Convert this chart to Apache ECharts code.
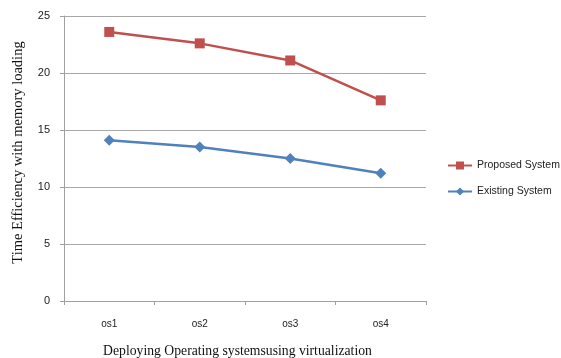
<!DOCTYPE html>
<html>
<head>
<meta charset="utf-8">
<script src="https://cdn.jsdelivr.net/npm/echarts@6/dist/echarts.min.js"></script>
<style>html,body{margin:0;padding:0;background:#fff}#c{width:561px;height:358px}</style>
</head>
<body>
<div id="c"></div>
<script>
var categories = ['os1', 'os2', 'os3', 'os4'];
var proposed = [23.6, 22.6, 21.1, 17.6];
var existing = [14.1, 13.5, 12.5, 11.2];
var yTicks = [0, 5, 10, 15, 20, 25];

var chart = echarts.init(document.getElementById('c'));
chart.setOption({
  animation: false,
  backgroundColor: '#fff',
  grid: { left: 64, top: 16, right: 135, bottom: 57, outerBoundsMode: 'none' },
  legend: {
    orient: 'vertical',
    left: 442,
    top: 155,
    itemGap: 15,
    itemWidth: 24,
    itemHeight: 10,
    textStyle: { fontFamily: 'Liberation Sans, Arial, sans-serif', fontSize: 10.5, color: '#222' },
    data: ['Proposed System', 'Existing System']
  },
  xAxis: {
    type: 'category',
    data: categories,
    boundaryGap: true,
    name: 'Deploying Operating systemsusing virtualization',
    nameLocation: 'middle',
    nameGap: 43,
    nameTextStyle: { fontFamily: 'Liberation Serif, Times New Roman, serif', fontSize: 13.7, color: '#111', padding: [0, 15, 0, 0] },
    axisLine: { lineStyle: { color: '#a0a0a0', width: 1 } },
    axisTick: { show: true, length: 4, lineStyle: { color: '#a0a0a0' } },
    axisLabel: { fontFamily: 'Liberation Sans, Arial, sans-serif', fontSize: 10, color: '#222', margin: 18 }
  },
  yAxis: {
    type: 'value',
    min: 0,
    max: 25,
    interval: 5,
    name: 'Time Efficiency with memory loading',
    nameLocation: 'middle',
    nameGap: 38,
    nameTextStyle: { fontFamily: 'Liberation Serif, Times New Roman, serif', fontSize: 14.5, color: '#111', padding: [0, 0, 0, 12] },
    axisLine: { show: true, lineStyle: { color: '#a0a0a0', width: 1 } },
    axisTick: { show: true, length: 4, lineStyle: { color: '#a0a0a0' } },
    axisLabel: {
      fontFamily: 'Liberation Sans, Arial, sans-serif', fontSize: 11, color: '#222', margin: 14,
      formatter: function (v) { return yTicks.indexOf(v) >= 0 ? String(v) : ''; }
    },
    splitLine: { show: true, lineStyle: { color: '#a8a8a8', width: 1 } }
  },
  series: [
    {
      name: 'Proposed System',
      type: 'line',
      data: proposed,
      symbol: 'rect',
      symbolSize: 10,
      itemStyle: { color: '#C0504D' },
      lineStyle: { color: '#C0504D', width: 2.5 }
    },
    {
      name: 'Existing System',
      type: 'line',
      data: existing,
      symbol: 'diamond',
      symbolSize: 11,
      itemStyle: { color: '#4F81BD' },
      lineStyle: { color: '#4F81BD', width: 2.5 }
    }
  ]
});
</script>
</body>
</html>
